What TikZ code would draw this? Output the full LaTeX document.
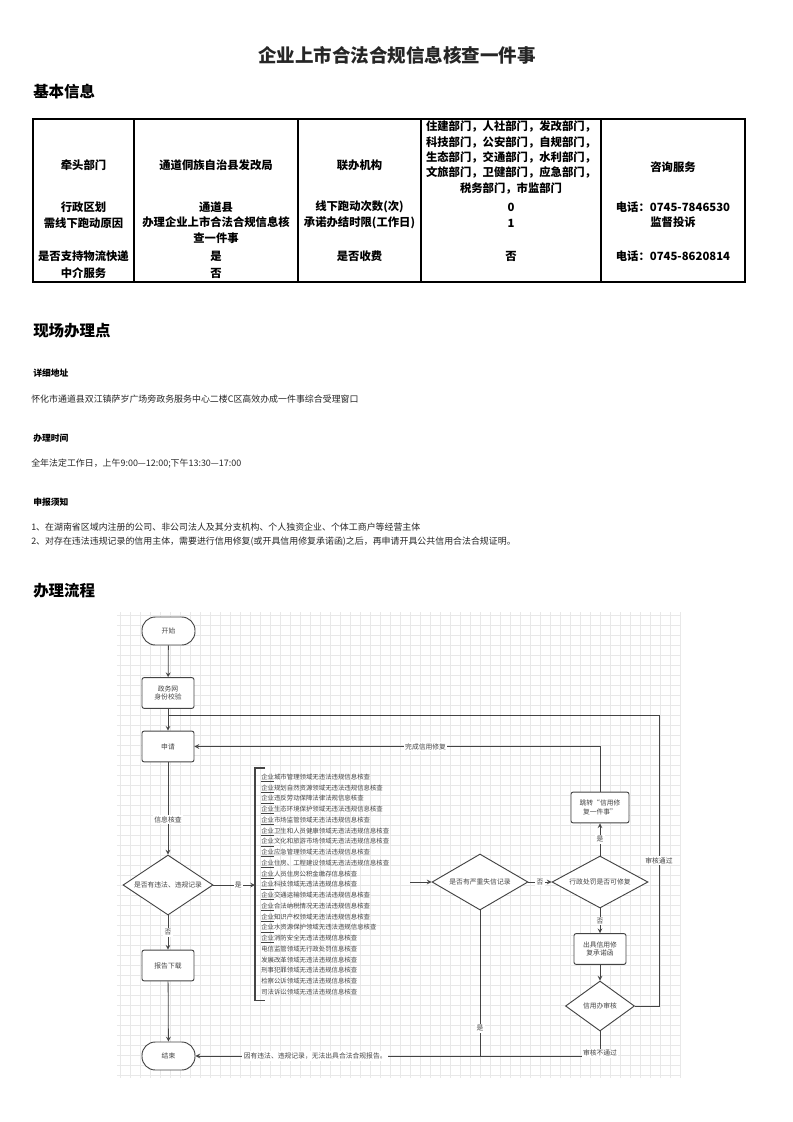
\documentclass[tikz,border=0pt]{standalone}
\usepackage{fontspec}
\setmainfont{Noto Sans CJK SC}
\usetikzlibrary{shapes.geometric}

\definecolor{inkgray}{HTML}{444444}
\definecolor{gridgray}{HTML}{E8E8E8}

\newcommand\flowfont{\fontsize{5.1}{6.4}\selectfont}
\newcommand\qy[1]{\underline{企业}#1}

\tikzset{
  sechead/.style={anchor=west, inner sep=0pt, font=\bfseries\fontsize{11.6}{14}\selectfont},
  subhead/.style={anchor=west, inner sep=0pt, font=\bfseries\fontsize{6.6}{8}\selectfont},
  bodytext/.style={anchor=west, inner sep=0pt, font=\fontsize{6.7}{11.2}\selectfont, text=black!85},
  tcell/.style={inner sep=0pt, align=center, font=\bfseries\fontsize{8.5}{11.5}\selectfont},
  terminal/.style={draw=inkgray, line width=0.7pt, rounded corners=10pt, fill=white,
    minimum width=39.75pt, minimum height=21pt, font=\flowfont, text=inkgray},
  process/.style={draw=inkgray, line width=0.7pt, rounded corners=1.5pt, fill=white,
    minimum width=39pt, minimum height=23pt, align=center, font=\flowfont, text=inkgray},
  decision/.style={diamond, aspect=3, draw=inkgray, line width=0.7pt, fill=white, inner sep=0pt,
    font=\flowfont, text=inkgray},
  flowline/.style={draw=inkgray, line width=0.6pt},
  flowlabel/.style={fill=white, inner sep=1pt, font=\flowfont, text=inkgray},
  listbox/.style={align=left, text width=107pt, inner xsep=4.5pt, inner ysep=4.2pt,
    font=\fontsize{4.8}{8.06}\selectfont, text=inkgray},
  gridline/.style={draw=gridgray, line width=0.3pt}
}

\begin{document}
\begin{tikzpicture}[x=0.75pt, y=-0.75pt, >=stealth]
\useasboundingbox[fill=white] (0,0) rectangle (793,1122);

% title
\node[inner sep=0pt, font=\bfseries\fontsize{13.9}{16}\selectfont, text=black!85] (title) at (397,55) {企业上市合法合规信息核查一件事};

% basic info table
\node[sechead] (infohead) at (33,92) {基本信息};
\draw[line width=1pt] (33,119) rectangle (745,282);
\foreach \cx in {134,298,421,601}
  \draw[line width=1pt] (\cx,119) -- (\cx,282);

\node[tcell] (lead) at (83.5,165) {牵头部门};
\node[tcell] (area) at (83.5,207) {行政区划};
\node[tcell] (why) at (83.5,223) {需线下跑动原因};
\node[tcell] (post) at (83.5,256) {是否支持物流快递};
\node[tcell] (agent) at (83.5,273) {中介服务};

\node[tcell] (leadv) at (216,165) {通道侗族自治县发改局};
\node[tcell] (areav) at (216,207) {通道县};
\node[tcell, font=\bfseries\fontsize{8.5}{12}\selectfont] (whyv) at (216,230.5) {办理企业上市合法合规信息核\\查一件事};
\node[tcell] (postv) at (216,256) {是};
\node[tcell] (agentv) at (216,273) {否};

\node[tcell] (joint) at (359.5,165) {联办机构};
\node[tcell] (trips) at (359.5,207) {线下跑动次数(次)};
\node[tcell] (limit) at (359.5,223) {承诺办结时限(工作日)};
\node[tcell] (fee) at (359.5,256) {是否收费};

\node[tcell] (jointv) at (511,157.5) {住建部门，人社部门，发改部门，\\科技部门，公安部门，自规部门，\\生态部门，交通部门，水利部门，\\文旅部门，卫健部门，应急部门，\\税务部门，市监部门};
\node[tcell] (tripsv) at (511,207) {0};
\node[tcell] (limitv) at (511,223) {1};
\node[tcell] (feev) at (511,256) {否};

\node[tcell] (ask) at (673,167) {咨询服务};
\node[tcell] (askv) at (673,207) {电话：0745-7846530};
\node[tcell] (complain) at (673,222) {监督投诉};
\node[tcell] (complainv) at (673,256) {电话：0745-8620814};

% on-site office
\node[sechead] (sitehead) at (33,331) {现场办理点};
\node[subhead] (addrhead) at (33,373) {详细地址};
\node[bodytext] (addr) at (31,399) {怀化市通道县双江镇萨岁广场旁政务服务中心二楼C区高效办成一件事综合受理窗口};
\node[subhead] (timehead) at (33,438) {办理时间};
\node[bodytext] (hours) at (31,464) {全年法定工作日，上午9:00—12:00;下午13:30—17:00};
\node[subhead] (notehead) at (33,502) {申报须知};
\node[bodytext] (note1) at (31,527) {1、在湖南省区域内注册的公司、非公司法人及其分支机构、个人独资企业、个体工商户等经营主体};
\node[bodytext] (note2) at (31,542) {2、对存在违法违规记录的信用主体，需要进行信用修复(或开具信用修复承诺函)之后，再申请开具公共信用合法合规证明。};

% process
\node[sechead] (flowhead) at (33,591) {办理流程};
\foreach \gx in {120,130,...,680}
  \draw[gridline] (\gx,612) -- (\gx,1078);
\foreach \gy in {615,625,...,1075}
  \draw[gridline] (117,\gy) -- (680,\gy);

\node[terminal] (start) at (168.5,631) {开始};
\node[process] (portal) at (168,693) {政务网\\身份校验};
\node[process] (apply) at (168,746.5) {申请};
\node[decision, minimum width=67.5pt, minimum height=45pt] (law) at (168,885) {是否有违法、违规记录};
\node[process] (report) at (168,965.5) {报告下载};
\node[terminal] (finish) at (168.5,1056) {结束};

\node[listbox, anchor=north west] (checks) at (255,768) {\qy{城市管理领域无违法违规信息核查}\\
\qy{规划自然资源领域无违法违规信息核查}\\
\qy{违反劳动保障法律法规信息核查}\\
\qy{生态环境保护领域无违法违规信息核查}\\
\qy{市场监管领域无违法违规信息核查}\\
\qy{卫生和人员健康领域无违法违规信息核查}\\
\qy{文化和旅游市场领域无违法违规信息核查}\\
\qy{应急管理领域无违法违规信息核查}\\
\qy{住房、工程建设领域无违法违规信息核查}\\
\qy{人员住房公积金缴存信息核查}\\
\qy{科技领域无违法违规信息核查}\\
\qy{交通运输领域无违法违规信息核查}\\
\qy{合法纳税情况无违法违规信息核查}\\
\qy{知识产权领域无违法违规信息核查}\\
\qy{水资源保护领域无违法违规信息核查}\\
\qy{消防安全无违法违规信息核查}\\
电信监管领域无行政处罚信息核查\\
发展改革领域无违法违规信息核查\\
刑事犯罪领域无违法违规信息核查\\
检察公诉领域无违法违规信息核查\\
司法诉讼领域无违法违规信息核查};

\node[decision, minimum width=72pt, minimum height=42pt] (serious) at (480,882) {是否有严重失信记录};
\node[decision, minimum width=72pt, minimum height=39pt] (repair) at (600,882) {行政处罚是否可修复};
\node[process, minimum width=43.5pt] (jump) at (600,807.5) {跳转“信用修\\复一件事”};
\node[process] (promise) at (600,949) {出具信用修\\复承诺函};
\node[decision, minimum width=51.75pt, minimum height=37.5pt] (audit) at (600,1006) {信用办审核};

\coordinate (join) at (168,715);

\draw[flowline,->] (start) -- (portal);
\draw[flowline,->] (portal) -- (apply);
\draw[flowline,->] (apply) -- node[flowlabel, pos=0.62] {信息核查} (law);
\draw[flowline,->] (law) -- node[flowlabel] {否} (report);
\draw[flowline,->] (report) -- (finish);
\draw[flowline,->] (law) -- node[flowlabel, pos=0.6] {是} (law -| checks.west);
\draw[flowline, line width=0.8pt] ([xshift=7.5pt]checks.north west) -- (checks.north west)
  -- (checks.south west) -- ([xshift=7.5pt]checks.south west);
\draw[flowline,->] (checks.east |- serious) -- (serious);
\draw[flowline,->] (serious) -- node[flowlabel] {否} (repair);
\draw[flowline,->] (repair) -- node[flowlabel] {是} (jump);
\draw[flowline,->] (repair) -- node[flowlabel] {否} (promise);
\draw[flowline,->] (promise) -- (audit);
\draw[flowline,->] (jump) |- node[flowlabel, pos=0.715] {完成信用修复} (apply);
\draw[flowline] (audit.east) -- ++(24,0) |- node[flowlabel, pos=0.25] {审核通过} (join);
\draw[flowline,->] (audit) |- node[flowlabel, pos=0.5, yshift=2pt] {审核不通过}
  node[flowlabel, pos=0.852] {因有违法、违规记录，无法出具合法合规报告。} (finish);
\draw[flowline] (serious) -- node[flowlabel, pos=0.81] {是} (serious |- finish);
\end{tikzpicture}
\end{document}
